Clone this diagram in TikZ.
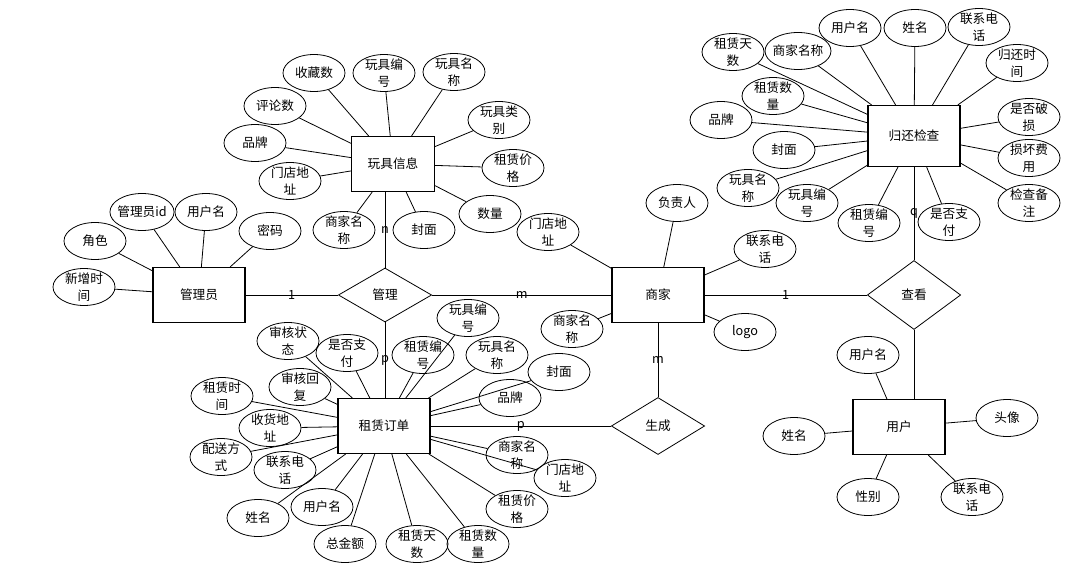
\documentclass[tikz,border=0pt]{standalone}
\usepackage{fontspec}
\setmainfont{Noto Sans CJK SC}
\usepackage{tikz}
\usetikzlibrary{shapes.geometric}
\tikzset{ entity/.style = {draw, line width=0.8pt, minimum width=69pt, minimum height=41.25pt, inner sep=0pt, font=\fontsize{9.5}{12.5}\selectfont},
  rel/.style = {draw, diamond, line width=0.6pt, minimum width=70pt, minimum height=42pt, inner sep=0pt, font=\fontsize{9.5}{12.5}\selectfont},
  attr/.style = {draw, ellipse, line width=0.6pt, minimum width=46.5pt, minimum height=27.75pt, inner sep=-1.5pt, align=center, font=\fontsize{9.5}{12.5}\selectfont},
  link/.style = {line width=0.6pt},
  card/.style = {font=\fontsize{9.5}{12.5}\selectfont, inner sep=0pt} }

\begin{document}
\begin{tikzpicture}[x=0.75pt, y=-0.75pt]
  \useasboundingbox (0,0) rectangle (1066,563);

  % entities and relations
  \node[entity, minimum width=62.25pt] (toy) at (393,164) {玩具信息};
  \node[entity] (admin) at (199,295) {管理员};
  \node[entity] (shop) at (658,295) {商家};
  \node[entity, minimum height=45.75pt] (ret) at (914,136) {归还检查};
  \node[entity] (order) at (384,426) {租赁订单};
  \node[entity] (user) at (899,427) {用户};
  \node[rel, minimum height=40.5pt] (mng) at (385,295) {管理};
  \node[rel, minimum height=51.75pt] (look) at (914,295) {查看};
  \node[rel, minimum height=42.75pt] (gen) at (658,426) {生成};

  \draw[link] (admin) -- node[card] {1} (mng);
  \draw[link] (mng) -- node[card] {m} (shop);
  \draw[link] (toy.south -| mng.north) -- node[card] {n} (mng.north);
  \draw[link] (mng.south) -- node[card] {p} (mng.south |- order.north);
  \draw[link] (shop) -- node[card] {1} (look);
  \draw[link] (ret) -- node[card] {q} (look);
  \draw[link] (look) -- (look.south |- user.north);
  \draw[link] (shop) -- node[card] {m} (gen);
  \draw[link] (order) -- node[card] {p} (gen);

  % attributes
  \foreach \x/\y/\t [count=\i] in {314/73/收藏数, 384/73/{玩具编\\号}, 454/72/{玩具名\\称}, 499/120/{玩具类\\别}, 513/168/{租赁价\\格}, 490/214/数量, 424/230/封面, 344/230/{商家名\\称}, 290/181/{门店地\\址}, 255/143/品牌, 275/106/评论数}
    { \node[attr] (toy-\i) at (\x,\y) {\t}; \draw[link] (toy-\i) -- (toy); }

  \foreach \x/\y/\t [count=\i] in {95/241/角色, 142/212/管理员id, 206/212/用户名, 270/231/密码, 84/287/{新增时\\间}}
    { \node[attr] (admin-\i) at (\x,\y) {\t}; \draw[link] (admin-\i) -- (admin); }

  \foreach \x/\y/\t [count=\i] in {548/232/{门店地\\址}, 677/203/负责人, 765/249/{联系电\\话}, 745/332/logo, 572/329/{商家名\\称}}
    { \node[attr] (shop-\i) at (\x,\y) {\t}; \draw[link] (shop-\i) -- (shop); }

  \foreach \x/\y/\t [count=\i] in {733/52/{租赁天\\数}, 798/51/商家名称, 850/28/用户名, 915/28/姓名, 979/27/{联系电\\话}, 1017/63/{归还时\\间}, 1029/117/{是否破\\损}, 1029/158/{损坏费\\用}, 1029/203/{检查备\\注}, 949/222/{是否支\\付}, 869/223/{租赁编\\号}, 807/203/{玩具编\\号}, 748/188/{玩具名\\称}, 784/150/封面, 721/120/品牌, 773/96/{租赁数\\量}}
    { \node[attr] (ret-\i) at (\x,\y) {\t}; \draw[link] (ret-\i) -- (ret); }

  \foreach \x/\y/\t [count=\i] in {288/341/{审核状\\态}, 347/353/{是否支\\付}, 423/355/{租赁编\\号}, 468/318/{玩具编\\号}, 497/355/{玩具名\\称}, 559/372/封面, 510/398/品牌, 300/387/{审核回\\复}, 222/396/{租赁时\\间}, 270/428/{收货地\\址}, 221/457/{配送方\\式}, 285/470/{联系电\\话}, 258/518/姓名, 322/507/用户名, 345/544/总金额, 417/544/{租赁天\\数}, 478/544/{租赁数\\量}, 517/509/{租赁价\\格}, 517/455/{商家名\\称}, 565/478/{门店地\\址}}
    { \node[attr] (order-\i) at (\x,\y) {\t}; \draw[link] (order-\i) -- (order); }

  \foreach \x/\y/\t [count=\i] in {868/355/用户名, 1007/418/头像, 794/436/姓名, 868/497/性别, 972/497/{联系电\\话}}
    { \node[attr] (user-\i) at (\x,\y) {\t}; \draw[link] (user-\i) -- (user); }
\end{tikzpicture}
\end{document}
